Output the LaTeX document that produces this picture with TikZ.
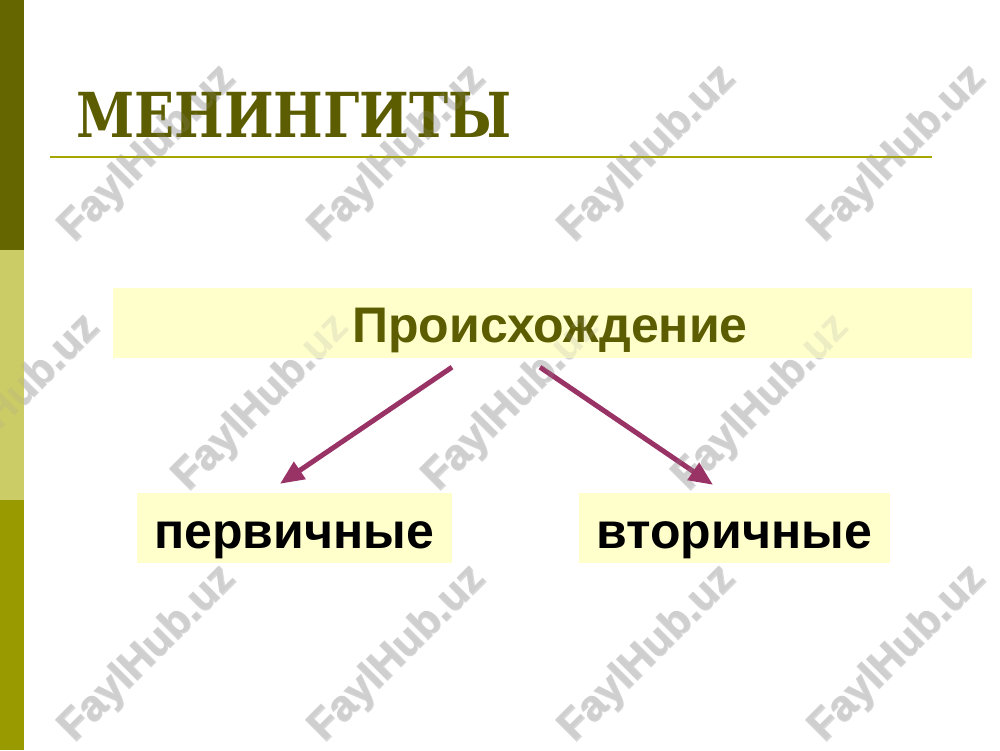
\documentclass[tikz,border=0pt]{standalone}
\usepackage{graphicx}
\usepackage{fontspec}
\setmainfont{Liberation Sans}
\newfontfamily\titlefont{DejaVu Serif}
\newfontfamily\wmfont{Liberation Sans}[FakeBold=3, BoldFeatures={FakeBold=3}]
\usetikzlibrary{arrows.meta}
\definecolor{darkolive}{HTML}{666600}
\definecolor{titleolive}{HTML}{5C5C00}
\definecolor{lightolive}{HTML}{CCCC66}
\definecolor{midolive}{HTML}{999900}
\definecolor{ruleolive}{HTML}{A6A600}
\definecolor{boxyellow}{HTML}{FFFFCC}
\definecolor{arrowpurple}{HTML}{993366}
\definecolor{wmgray}{HTML}{A0A0A0}
\definecolor{wmlight}{HTML}{DADADA}
\tikzset{
  ybox/.style={fill=boxyellow, draw=none, inner sep=0pt},
  lbl/.style={anchor=base, inner sep=0pt, font=\bfseries\fontsize{50}{54}\selectfont},
  conn/.style={draw=arrowpurple, line width=5pt, -{Triangle[length=24pt,width=20pt]}},
  wmback/.style={rotate=45, text=wmlight, inner sep=0pt, font=\wmfont\bfseries\fontsize{43}{47}\selectfont},
  wmfront/.style={rotate=45, text=wmgray, opacity=0.18, inner sep=0pt, font=\bfseries\fontsize{43}{47}\selectfont}
}
\begin{document}
\begin{tikzpicture}[x=1pt,y=-1pt]
\useasboundingbox (0,0) rectangle (1000,750);
\fill[white] (0,0) rectangle (1000,750);
% watermarks (background layer)
\foreach \i/\x/\y in {1/148/154,2/398/154,3/648/154,4/898/154,5/12/403,6/262/403,7/512/403,8/762/403,9/148/654,10/398/654,11/648/654,12/898/654}{
  \node[wmback] (wmb\i) at (\x,\y) {FaylHub.uz};
}
% left stripe
\fill[darkolive] (0,0) rectangle (24,250);
\fill[lightolive] (0,250) rectangle (24,500);
\fill[midolive] (0,500) rectangle (24,750);
% title
\node[anchor=base west, inner sep=0pt, text=titleolive, font=\titlefont\bfseries\fontsize{62}{66}\selectfont] (title) at (76,137) {\scalebox{0.848}[1]{МЕНИНГИТЫ}};
\coordinate (ruleL) at (50,157);
\coordinate (ruleR) at (932,157);
\draw[ruleolive, line width=2.5pt] (ruleL) -- (ruleR);
% boxes
\node[ybox, minimum width=859pt, minimum height=70pt] (top) at (542.5,323) {};
\node[ybox, minimum width=315pt, minimum height=70pt] (left) at (294.5,528) {};
\node[ybox, minimum width=311pt, minimum height=70pt] (right) at (734.5,528) {};
% labels
\node[lbl, text=titleolive] (ttop) at (550,342) {Происхождение};
\node[lbl, text=black] (tleft) at (294,548) {первичные};
\node[lbl, text=black] (tright) at (734,548) {вторичные};
% arrows
\draw[conn] ([xshift=-90.5pt,yshift=-9pt]top.south) -- ([xshift=-14.5pt,yshift=9pt]left.north);
\draw[conn] ([xshift=-2.5pt,yshift=-9pt]top.south) -- ([xshift=-21.5pt,yshift=8pt]right.north);
% watermarks (faint overlay)
\foreach \i/\x/\y in {1/148/154,2/398/154,3/648/154,4/898/154,5/12/403,6/262/403,7/512/403,8/762/403,9/148/654,10/398/654,11/648/654,12/898/654}{
  \node[wmfront] (wmf\i) at (\x,\y) {FaylHub.uz};
}
\end{tikzpicture}
\end{document}
